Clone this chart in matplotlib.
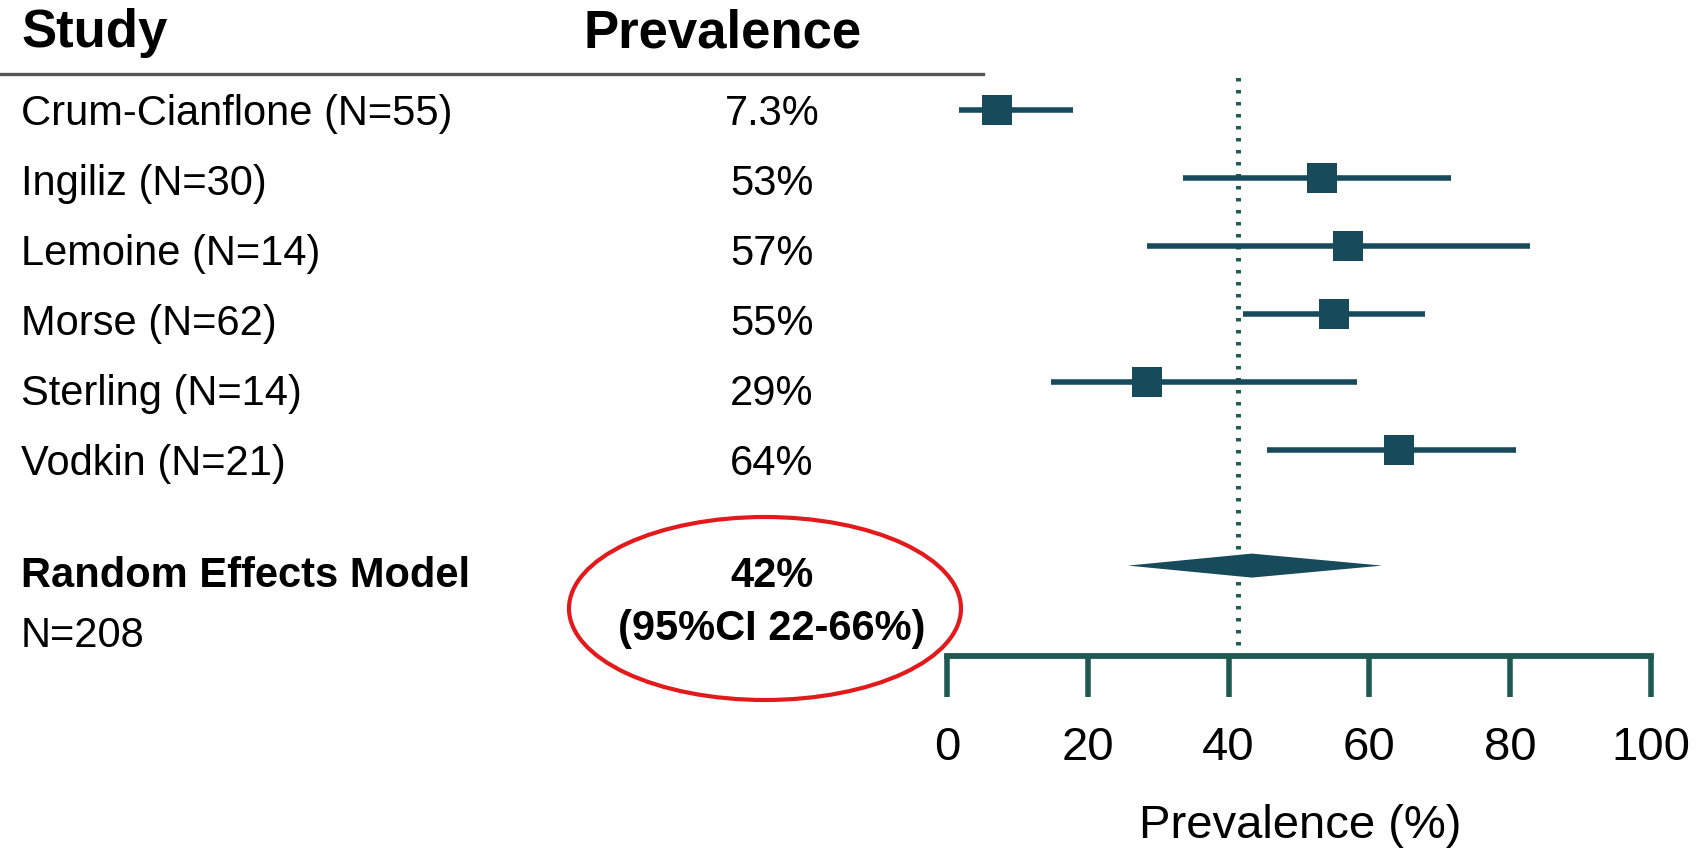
import matplotlib
matplotlib.use("Agg")
import matplotlib.pyplot as plt
from matplotlib.patches import Ellipse, Polygon
from matplotlib.lines import Line2D

# ---------------- data ----------------
studies = ["Crum-Cianflone (N=55)", "Ingiliz (N=30)", "Lemoine (N=14)",
           "Morse (N=62)", "Sterling (N=14)", "Vodkin (N=21)"]
prevalence_labels = ["7.3%", "53%", "57%", "55%", "29%", "64%"]
estimates = [7.1, 53.3, 57.0, 55.0, 28.4, 64.2]
ci_lower = [1.7, 33.5, 28.4, 42.1, 14.8, 45.4]
ci_upper = [17.9, 71.6, 82.8, 67.9, 58.2, 80.8]

pooled_label = "Random Effects Model"
pooled_n = "N=208"
pooled_text = "42%"
pooled_ci_text = "(95%CI 22-66%)"
pooled_est = 43.3
pooled_lo = 25.7
pooled_hi = 61.8
ref_line = 41.4

xticks = [0, 20, 40, 60, 80, 100]
header_study = "Study"
header_prev = "Prevalence"
xlabel = "Prevalence (%)"

# ---------------- style ----------------
plt.rcParams['font.family'] = ['Liberation Sans', 'DejaVu Sans']
W, H = 1699, 850
MARK = '#174A5B'
AXC = '#1F5A52'
DOT = '#1F5C58'
RED = '#E3191C'


def fx(px):
    return px / W


def fy(py):
    return 1 - py / H


fig = plt.figure(figsize=(W / 100, H / 100), dpi=100)

# forest axes: x 0..100 maps to pixels 947..1651; bottom at axis line
ax_top, ax_bot = 76, 656
ax = fig.add_axes([fx(947), fy(ax_bot), 704 / W, (ax_bot - ax_top) / H])
row_px0, row_step = 110, 68
ax.set_xlim(0, 100)
ax.set_ylim((ax_bot - row_px0) / row_step, (ax_top - row_px0) / row_step)

rows = list(range(len(studies)))
ax.hlines(rows, ci_lower, ci_upper, color=MARK, lw=4, clip_on=False, zorder=3)
ax.plot(estimates, rows, 's', ms=21, color=MARK, mew=0, clip_on=False, zorder=4)

pooled_row = len(studies) + 0.7
h = 12 / row_step
diamond = Polygon([(pooled_lo, pooled_row), (pooled_est, pooled_row - h),
                   (pooled_hi, pooled_row), (pooled_est, pooled_row + h)],
                  closed=True, color=MARK, lw=0, zorder=4)
ax.add_patch(diamond)

ax.axvline(ref_line, ymin=(ax_bot - 645) / (ax_bot - ax_top), ymax=1,
           color=DOT, lw=3.6, linestyle=(0, (0.7, 1.7)), zorder=2)

for s in ['top', 'left', 'right']:
    ax.spines[s].set_visible(False)
ax.spines['bottom'].set_color(AXC)
ax.spines['bottom'].set_linewidth(4.2)
ax.set_yticks([])
ax.set_xticks(xticks)
ax.set_xticklabels([str(t) for t in xticks])
ax.tick_params(axis='x', length=29.5, width=4, color=AXC, pad=21,
               labelsize=34, direction='out')
ax.set_xlabel(xlabel, fontsize=34)
ax.xaxis.set_label_coords((1300 - 947) / 704, -(826 - ax_bot) / (ax_bot - ax_top))
ax.xaxis.label.set_va('center')
ax.patch.set_alpha(0)

# ---------------- table text ----------------
fig.text(fx(21), fy(47), header_study, fontsize=38, fontweight='bold',
         ha='left', va='baseline')
fig.text(fx(723), fy(47), header_prev, fontsize=38, fontweight='bold',
         ha='center', va='baseline')
fig.add_artist(Line2D([0, fx(983)], [fy(74), fy(74)], color='#555555', lw=2.4))

for i, (name, val) in enumerate(zip(studies, prevalence_labels)):
    yb = 125 + 70 * i
    fig.text(fx(21), fy(yb), name, fontsize=30, ha='left', va='baseline')
    fig.text(fx(772), fy(yb), val, fontsize=30, ha='center', va='baseline')

fig.text(fx(21), fy(587), pooled_label, fontsize=30, fontweight='bold',
         ha='left', va='baseline')
fig.text(fx(21), fy(647), pooled_n, fontsize=30, ha='left', va='baseline')
fig.text(fx(772), fy(587), pooled_text, fontsize=30, fontweight='bold',
         ha='center', va='baseline')
fig.text(fx(772), fy(640), pooled_ci_text, fontsize=30, fontweight='bold',
         ha='center', va='baseline')

fig.add_artist(Ellipse((fx(765), fy(608.5)), 392 / W, 183 / H,
                       transform=fig.transFigure, fill=False, ec=RED, lw=3))

fig.savefig("out.png", dpi=100)
